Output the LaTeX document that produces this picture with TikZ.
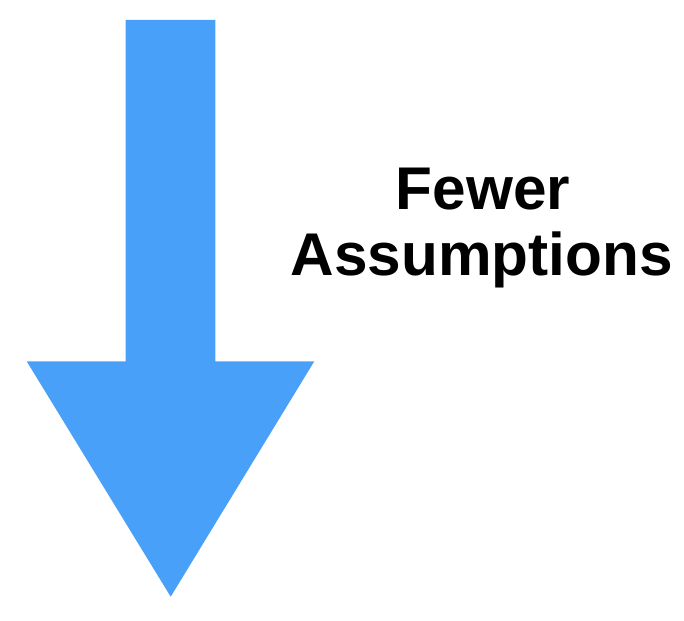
\documentclass[tikz,border=0pt]{standalone}
\usepackage{fontspec}
\setmainfont{Liberation Sans}
\definecolor{arrowblue}{RGB}{73,160,248}
\begin{document}
\begin{tikzpicture}[x=1pt,y=-1pt,
  label text/.style={font=\bfseries\fontsize{60.3}{66}\selectfont, inner sep=0pt, anchor=base, text=black}]
\useasboundingbox (0,0) rectangle (684,620);
\fill[arrowblue] (125.7,20) -- (215.3,20) -- (215.3,361.3) -- (314.3,361.3) -- (170.7,596.7) -- (26.7,361.3) -- (125.7,361.3) -- cycle;
\node[label text] (fewer) at (483,209.3) {Fewer};
\node[label text] (assumptions) at (481.7,275) {Assumptions};
\end{tikzpicture}
\end{document}
